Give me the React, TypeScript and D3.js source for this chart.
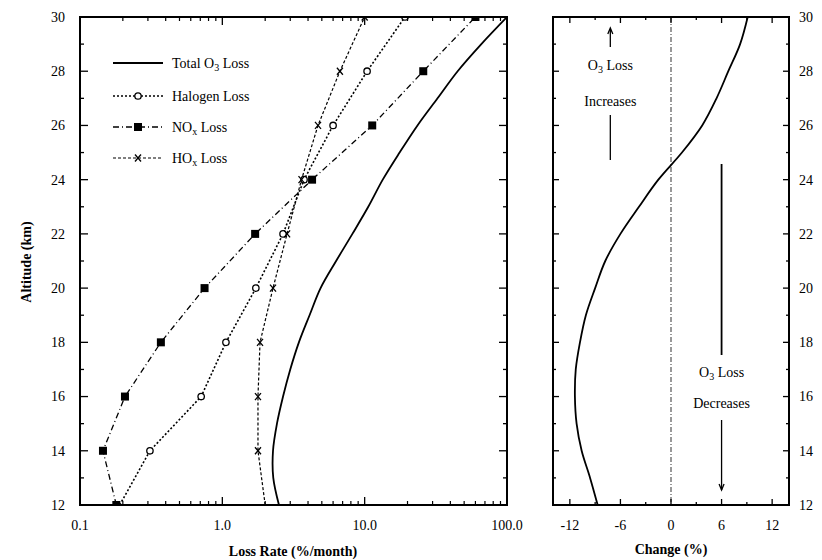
import React from "react";
import * as d3 from "d3";

// ---------- data ----------
const markerAlt = [12, 14, 16, 18, 20, 22, 24, 26, 28, 30];
const halogenLoss = [0.19, 0.31, 0.71, 1.06, 1.72, 2.67, 3.75, 6.0, 10.4, 19.2];
const noxLoss = [0.18, 0.145, 0.207, 0.37, 0.75, 1.7, 4.27, 11.3, 25.8, 60];
const hoxLoss = [2.0, 1.78, 1.78, 1.84, 2.27, 2.85, 3.6, 4.7, 6.7, 10.0];

const totalAlt = [12, 13, 14, 15, 16, 17, 18, 19, 20, 21, 22, 23, 24, 25, 26, 27, 28, 29, 30];
const totalLoss = [2.5, 2.28, 2.27, 2.42, 2.67, 3.0, 3.45, 4.1, 4.9, 6.3, 8.2, 10.6, 13.4, 17.6, 23.5, 32.5, 45, 66, 100];

const changeAlt = [12, 13, 14, 15, 16, 17, 18, 19, 20, 21, 22, 23, 24, 25, 26, 27, 28, 29, 30];
const changePct = [-8.7, -9.6, -10.6, -11.2, -11.4, -11.3, -10.8, -10.1, -9.0, -7.8, -6.0, -3.8, -1.5, 1.3, 3.7, 5.4, 6.8, 8.2, 9.1];

const lossTicks = [0.1, 1, 10, 100];
const lossTickLabels = ["0.1", "1.0", "10.0", "100.0"];
const altTicks = [12, 14, 16, 18, 20, 22, 24, 26, 28, 30];
const changeTicks = [-12, -6, 0, 6, 12];

// ---------- layout ----------
const W = 822;
const H = 560;
const L = { x0: 80, x1: 507 };
const R = { x0: 553, x1: 789 };
const Y0 = 17;
const Y1 = 505;
const FONT = "Liberation Serif, Times New Roman, serif";
const FS = 14;

export default function App() {
  const y = d3.scaleLinear().domain([12, 30]).range([Y1, Y0]);
  const xl = d3.scaleLog().domain([0.1, 100]).range([L.x0, L.x1]);
  const xr = d3.scaleLinear().domain([-14, 14]).range([R.x0, R.x1]);

  const logLine = d3
    .line<[number, number]>()
    .x((d) => xl(d[0]))
    .y((d) => y(d[1]));
  const smoothLog = d3
    .line<[number, number]>()
    .x((d) => xl(d[0]))
    .y((d) => y(d[1]))
    .curve(d3.curveCatmullRom.alpha(0.5));
  const changeLine = d3
    .line<[number, number]>()
    .x((d) => xr(d[0]))
    .y((d) => y(d[1]))
    .curve(d3.curveCatmullRom.alpha(0.5));

  const pairs = (vals: number[], alts: number[]) => vals.map((v, i) => [v, alts[i]] as [number, number]);

  const minorLog: number[] = [];
  for (let dec = 0.1; dec < 100; dec *= 10) {
    for (let k = 2; k <= 9; k++) minorLog.push(+(dec * k).toPrecision(3));
  }
  const kmTicks = d3.range(12, 31, 1);
  const changeMinor = d3.range(-12, 13, 3);

  const circle = (cx: number, cy: number, key: string) => (
    <circle key={key} cx={cx} cy={cy} r={3.2} fill="white" stroke="black" strokeWidth={1.3} />
  );
  const square = (cx: number, cy: number, key: string) => (
    <rect key={key} x={cx - 4} y={cy - 4} width={8} height={8} fill="black" />
  );
  const cross = (cx: number, cy: number, key: string) => (
    <g key={key} stroke="black" strokeWidth={1.3}>
      <line x1={cx - 3} y1={cy - 3.5} x2={cx + 3} y2={cy + 3.5} />
      <line x1={cx - 3} y1={cy + 3.5} x2={cx + 3} y2={cy - 3.5} />
    </g>
  );

  const sub = (main: string, s: string, rest: string) => (
    <>
      {main}
      <tspan dy={3} fontSize={10}>
        {s}
      </tspan>
      <tspan dy={-3}>{rest}</tspan>
    </>
  );

  const legendRows = [
    { label: sub("Total O", "3", " Loss"), dash: "none", w: 1.8, m: null as any },
    { label: "Halogen Loss", dash: "2,2", w: 1.6, m: circle },
    { label: sub("NO", "x", " Loss"), dash: "6,3,1,3", w: 1.3, m: square },
    { label: sub("HO", "x", " Loss"), dash: "3,2", w: 1.2, m: cross },
  ];
  const legendY = [63, 96, 127, 158];

  return (
    <svg width={W} height={H} style={{ position: "absolute", left: 0, top: 0, background: "white" }} fontFamily={FONT}>
      <defs>
        <clipPath id="clipL">
          <rect x={L.x0} y={Y0} width={L.x1 - L.x0} height={Y1 - Y0} />
        </clipPath>
        <clipPath id="clipR">
          <rect x={R.x0} y={Y0} width={R.x1 - R.x0} height={Y1 - Y0} />
        </clipPath>
      </defs>
      <rect width={W} height={H} fill="white" />

      {/* ---------- left panel ---------- */}
      <g clipPath="url(#clipL)">
        <path d={smoothLog(pairs(totalLoss, totalAlt)) || ""} fill="none" stroke="black" strokeWidth={1.8} />
        <path d={logLine(pairs(halogenLoss, markerAlt)) || ""} fill="none" stroke="black" strokeWidth={1.6} strokeDasharray="2,2" />
        <path d={logLine(pairs(noxLoss, markerAlt)) || ""} fill="none" stroke="black" strokeWidth={1.3} strokeDasharray="6,3,1,3" />
        <path d={logLine(pairs(hoxLoss, markerAlt)) || ""} fill="none" stroke="black" strokeWidth={1.2} strokeDasharray="3,2" />
        {markerAlt.map((a, i) => square(xl(noxLoss[i]), y(a), "n" + i))}
        {markerAlt.map((a, i) => (i === 0 ? null : circle(xl(halogenLoss[i]), y(a), "h" + i)))}
        {markerAlt.map((a, i) => (i === 0 ? null : cross(xl(hoxLoss[i]), y(a), "x" + i)))}
      </g>

      {/* left panel frame and ticks */}
      <rect x={L.x0} y={Y0} width={L.x1 - L.x0} height={Y1 - Y0} fill="none" stroke="black" strokeWidth={2} />
      {kmTicks.map((k) => {
        const len = k % 2 === 0 ? 8 : 4;
        return (
          <g key={"lk" + k} stroke="black" strokeWidth={1.3}>
            <line x1={L.x0} x2={L.x0 + len} y1={y(k)} y2={y(k)} />
            <line x1={L.x1} x2={L.x1 - len} y1={y(k)} y2={y(k)} />
          </g>
        );
      })}
      {lossTicks.map((t) => (
        <g key={"lt" + t} stroke="black" strokeWidth={1.3}>
          <line x1={xl(t)} x2={xl(t)} y1={Y1} y2={Y1 - 8} />
          <line x1={xl(t)} x2={xl(t)} y1={Y0} y2={Y0 + 8} />
        </g>
      ))}
      {minorLog.map((t) => (
        <g key={"lm" + t} stroke="black" strokeWidth={1.2}>
          <line x1={xl(t)} x2={xl(t)} y1={Y1} y2={Y1 - 4} />
          <line x1={xl(t)} x2={xl(t)} y1={Y0} y2={Y0 + 4} />
        </g>
      ))}
      {altTicks.map((a) => (
        <text key={"al" + a} x={65} y={y(a)} dy="0.35em" textAnchor="end" fontSize={FS}>
          {a}
        </text>
      ))}
      {lossTicks.map((t, i) => (
        <text key={"ll" + t} x={xl(t)} y={530} textAnchor="middle" fontSize={FS}>
          {lossTickLabels[i]}
        </text>
      ))}
      <text x={293} y={556} textAnchor="middle" fontSize={FS} fontWeight="bold">
        Loss Rate (%/month)
      </text>
      <text transform={`translate(31,262) rotate(-90)`} textAnchor="middle" fontSize={FS} fontWeight="bold">
        Altitude (km)
      </text>

      {/* legend */}
      {legendRows.map((r, i) => (
        <g key={"lg" + i}>
          <line x1={113} x2={163} y1={legendY[i]} y2={legendY[i]} stroke="black" strokeWidth={r.w} strokeDasharray={r.dash} />
          {r.m ? r.m(138, legendY[i], "lgm" + i) : null}
          <text x={172} y={legendY[i]} dy="0.35em" fontSize={FS}>
            {r.label}
          </text>
        </g>
      ))}

      {/* ---------- right panel ---------- */}
      <line x1={xr(0)} x2={xr(0)} y1={Y0} y2={Y1} stroke="#333" strokeWidth={1} strokeDasharray="5,2,1,2" />
      <g clipPath="url(#clipR)">
        <path d={changeLine(pairs(changePct, changeAlt)) || ""} fill="none" stroke="black" strokeWidth={1.8} />
      </g>
      <rect x={R.x0} y={Y0} width={R.x1 - R.x0} height={Y1 - Y0} fill="none" stroke="black" strokeWidth={2} />
      {kmTicks.map((k) => {
        const len = k % 2 === 0 ? 6 : 3;
        return (
          <g key={"rk" + k} stroke="black" strokeWidth={1.3}>
            <line x1={R.x0} x2={R.x0 + len} y1={y(k)} y2={y(k)} />
            <line x1={R.x1} x2={R.x1 - len} y1={y(k)} y2={y(k)} />
          </g>
        );
      })}
      {changeMinor.map((t) => {
        const len = t % 6 === 0 ? 6 : 3;
        return (
          <g key={"rt" + t} stroke="black" strokeWidth={1.3}>
            <line x1={xr(t)} x2={xr(t)} y1={Y1} y2={Y1 - len} />
            <line x1={xr(t)} x2={xr(t)} y1={Y0} y2={Y0 + len} />
          </g>
        );
      })}
      {altTicks.map((a) => (
        <text key={"ar" + a} x={799} y={y(a)} dy="0.35em" textAnchor="start" fontSize={FS}>
          {a}
        </text>
      ))}
      {changeTicks.map((t) => (
        <text key={"cl" + t} x={xr(t)} y={530} textAnchor="middle" fontSize={FS}>
          {t}
        </text>
      ))}
      <text x={xr(0)} y={554} textAnchor="middle" fontSize={FS} fontWeight="bold">
        Change (%)
      </text>

      {/* annotations */}
      <g stroke="black" strokeWidth={1.3} fill="black">
        <line x1={xr(-7.2)} x2={xr(-7.2)} y1={29} y2={47} />
        <path d={`M${xr(-7.2) - 2.5},${34} L${xr(-7.2)},${28} L${xr(-7.2) + 2.5},${34}`} fill="none" />
        <line x1={xr(-7.2)} x2={xr(-7.2)} y1={115} y2={160} />
        <line x1={xr(6)} x2={xr(6)} y1={164} y2={355} strokeWidth={1.8} />
        <line x1={xr(6)} x2={xr(6)} y1={420} y2={490} />
        <path d={`M${xr(6) - 2.5},${484} L${xr(6)},${490} L${xr(6) + 2.5},${484}`} fill="none" />
      </g>
      <text x={xr(-7.2)} y={65} dy="0.35em" textAnchor="middle" fontSize={FS}>
        {sub("O", "3", " Loss")}
      </text>
      <text x={xr(-7.2)} y={101} dy="0.35em" textAnchor="middle" fontSize={FS}>
        Increases
      </text>
      <text x={xr(6)} y={372} dy="0.35em" textAnchor="middle" fontSize={FS}>
        {sub("O", "3", " Loss")}
      </text>
      <text x={xr(6)} y={403} dy="0.35em" textAnchor="middle" fontSize={FS}>
        Decreases
      </text>
    </svg>
  );
}
